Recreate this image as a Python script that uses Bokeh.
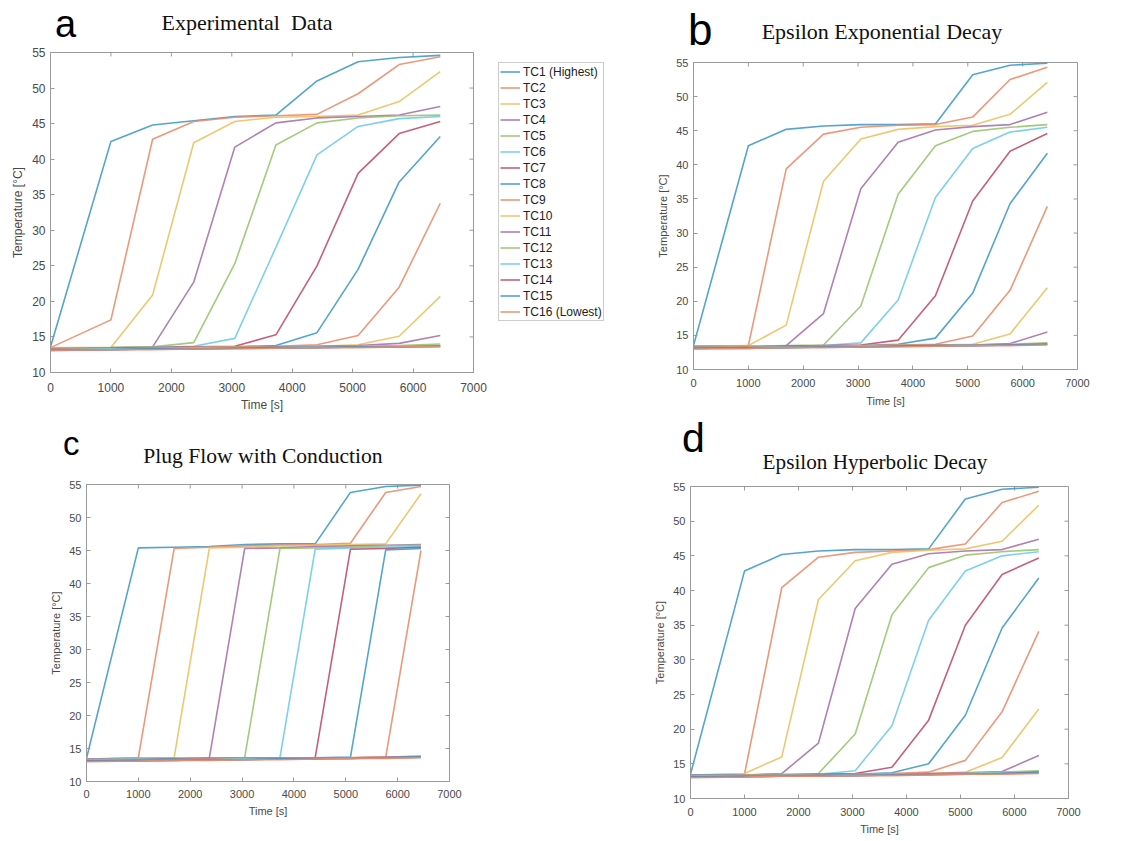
from bokeh.plotting import figure
from bokeh.layouts import row, column
from bokeh.models import Range1d, FixedTicker, Legend, LegendItem, Div
from bokeh.embed import file_html
from bokeh.resources import INLINE

# ---------------- data ----------------
times = [0, 1000, 1690, 2370, 3050, 3730, 4410, 5090, 5770, 6450]
tc_names = ["TC1 (Highest)", "TC2", "TC3", "TC4", "TC5", "TC6", "TC7", "TC8",
            "TC9", "TC10", "TC11", "TC12", "TC13", "TC14", "TC15", "TC16 (Lowest)"]
x_ticks = [0, 1000, 2000, 3000, 4000, 5000, 6000, 7000]
y_ticks = [10, 15, 20, 25, 30, 35, 40, 45, 50, 55]
panel_titles = ["Experimental  Data", "Epsilon Exponential Decay",
                "Plug Flow with Conduction", "Epsilon Hyperbolic Decay"]
panel_letters = ["a", "b", "c", "d"]

experimental = [
    [13.6, 42.5, 44.8, 45.4, 46.0, 46.2, 51.0, 53.7, 54.3, 54.6],
    [13.5, 17.4, 42.8, 45.3, 45.9, 46.1, 46.3, 49.2, 53.3, 54.4],
    [13.5, 13.5, 20.9, 42.3, 45.3, 45.9, 46.0, 46.2, 48.1, 52.3],
    [13.4, 13.5, 13.6, 22.7, 41.7, 45.1, 45.8, 46.0, 46.2, 47.4],
    [13.4, 13.5, 13.6, 14.2, 25.3, 42.0, 45.1, 45.8, 46.1, 46.2],
    [13.4, 13.4, 13.5, 13.7, 14.8, 27.6, 40.6, 44.6, 45.7, 46.0],
    [13.3, 13.4, 13.5, 13.6, 13.7, 15.3, 25.0, 38.0, 43.6, 45.3],
    [13.3, 13.4, 13.4, 13.5, 13.6, 13.8, 15.6, 24.5, 36.8, 43.2],
    [13.3, 13.3, 13.4, 13.5, 13.6, 13.7, 13.9, 15.2, 22.0, 33.8],
    [13.3, 13.3, 13.4, 13.5, 13.5, 13.6, 13.7, 13.9, 15.1, 20.7],
    [13.3, 13.3, 13.4, 13.4, 13.5, 13.6, 13.7, 13.8, 14.1, 15.2],
    [13.2, 13.3, 13.3, 13.4, 13.5, 13.5, 13.6, 13.7, 13.8, 14.0],
    [13.2, 13.3, 13.3, 13.4, 13.4, 13.5, 13.6, 13.6, 13.7, 13.8],
    [13.1, 13.2, 13.3, 13.3, 13.4, 13.5, 13.5, 13.6, 13.6, 13.7],
    [13.2, 13.2, 13.3, 13.3, 13.4, 13.4, 13.5, 13.6, 13.6, 13.7],
    [13.1, 13.2, 13.2, 13.3, 13.3, 13.4, 13.5, 13.5, 13.6, 13.6],
]

exponential = [
    [13.5, 42.8, 45.2, 45.7, 45.9, 45.9, 46.0, 53.2, 54.6, 54.9],
    [13.4, 13.5, 39.4, 44.5, 45.5, 45.8, 45.9, 47.0, 52.5, 54.3],
    [13.4, 13.5, 16.5, 37.6, 43.8, 45.2, 45.6, 45.8, 47.4, 52.1],
    [13.4, 13.4, 13.5, 18.2, 36.5, 43.3, 45.1, 45.6, 45.9, 47.7],
    [13.3, 13.4, 13.5, 13.6, 19.3, 35.7, 42.8, 44.9, 45.5, 45.9],
    [13.3, 13.4, 13.4, 13.5, 13.9, 20.2, 35.2, 42.4, 44.8, 45.5],
    [13.3, 13.3, 13.4, 13.5, 13.6, 14.3, 20.8, 34.7, 42.0, 44.6],
    [13.3, 13.3, 13.4, 13.4, 13.5, 13.7, 14.6, 21.2, 34.3, 41.7],
    [13.2, 13.3, 13.3, 13.4, 13.5, 13.6, 13.7, 14.9, 21.6, 33.9],
    [13.2, 13.3, 13.3, 13.4, 13.4, 13.5, 13.6, 13.7, 15.2, 22.0],
    [13.2, 13.2, 13.3, 13.4, 13.4, 13.5, 13.6, 13.6, 13.8, 15.5],
    [13.2, 13.2, 13.3, 13.3, 13.4, 13.5, 13.5, 13.6, 13.7, 13.9],
    [13.1, 13.2, 13.3, 13.3, 13.4, 13.4, 13.5, 13.6, 13.6, 13.8],
    [13.1, 13.2, 13.2, 13.3, 13.3, 13.4, 13.5, 13.5, 13.6, 13.7],
    [13.1, 13.1, 13.2, 13.3, 13.3, 13.4, 13.4, 13.5, 13.6, 13.7],
    [13.0, 13.1, 13.2, 13.2, 13.3, 13.3, 13.4, 13.5, 13.5, 13.6],
]

plug_flow = [
    [13.5, 45.4, 45.5, 45.6, 45.9, 46.0, 46.0, 53.8, 54.7, 54.9],
    [13.4, 13.6, 45.3, 45.5, 45.7, 45.8, 45.9, 46.1, 53.8, 54.7],
    [13.4, 13.5, 13.6, 45.4, 45.5, 45.7, 45.8, 45.9, 46.0, 53.6],
    [13.4, 13.5, 13.5, 13.6, 45.3, 45.4, 45.6, 45.7, 45.8, 45.9],
    [13.3, 13.4, 13.5, 13.5, 13.6, 45.3, 45.4, 45.5, 45.7, 45.8],
    [13.3, 13.4, 13.4, 13.5, 13.6, 13.6, 45.2, 45.4, 45.5, 45.6],
    [13.3, 13.3, 13.4, 13.5, 13.5, 13.6, 13.6, 45.2, 45.3, 45.5],
    [13.3, 13.3, 13.4, 13.4, 13.5, 13.5, 13.6, 13.7, 45.1, 45.3],
    [13.2, 13.3, 13.3, 13.4, 13.5, 13.5, 13.6, 13.6, 13.7, 45.0],
    [13.2, 13.3, 13.3, 13.4, 13.4, 13.5, 13.5, 13.6, 13.7, 13.8],
    [13.2, 13.2, 13.3, 13.4, 13.4, 13.5, 13.5, 13.6, 13.7, 13.8],
    [13.2, 13.2, 13.3, 13.3, 13.4, 13.4, 13.5, 13.6, 13.6, 13.7],
    [13.1, 13.2, 13.3, 13.3, 13.4, 13.4, 13.5, 13.5, 13.6, 13.7],
    [13.1, 13.2, 13.2, 13.3, 13.3, 13.4, 13.5, 13.5, 13.6, 13.7],
    [13.1, 13.1, 13.2, 13.3, 13.3, 13.4, 13.4, 13.5, 13.6, 13.7],
    [13.0, 13.1, 13.2, 13.2, 13.3, 13.3, 13.4, 13.5, 13.5, 13.6],
]

hyperbolic = [
    [13.5, 42.8, 45.2, 45.7, 45.9, 45.9, 46.0, 53.2, 54.6, 54.9],
    [13.4, 13.5, 40.4, 44.8, 45.5, 45.7, 45.9, 46.7, 52.7, 54.3],
    [13.4, 13.6, 16.0, 38.7, 44.3, 45.5, 45.8, 46.0, 47.1, 52.3],
    [13.4, 13.4, 13.6, 18.0, 37.4, 43.8, 45.3, 45.7, 45.9, 47.4],
    [13.3, 13.4, 13.5, 13.6, 19.3, 36.5, 43.3, 45.1, 45.6, 45.9],
    [13.3, 13.4, 13.4, 13.5, 14.0, 20.5, 35.7, 42.8, 45.0, 45.6],
    [13.3, 13.3, 13.4, 13.5, 13.6, 14.5, 21.3, 35.0, 42.3, 44.7],
    [13.3, 13.3, 13.4, 13.4, 13.5, 13.7, 15.0, 22.0, 34.6, 41.8],
    [13.2, 13.3, 13.3, 13.4, 13.5, 13.6, 13.8, 15.5, 22.5, 34.1],
    [13.2, 13.3, 13.3, 13.4, 13.4, 13.5, 13.6, 13.8, 15.9, 22.9],
    [13.2, 13.2, 13.3, 13.4, 13.4, 13.5, 13.6, 13.7, 13.9, 16.2],
    [13.2, 13.2, 13.3, 13.3, 13.4, 13.5, 13.5, 13.6, 13.8, 14.0],
    [13.1, 13.2, 13.3, 13.3, 13.4, 13.4, 13.5, 13.6, 13.7, 13.9],
    [13.1, 13.2, 13.2, 13.3, 13.3, 13.4, 13.5, 13.5, 13.6, 13.8],
    [13.1, 13.1, 13.2, 13.3, 13.3, 13.4, 13.4, 13.5, 13.6, 13.7],
    [13.0, 13.1, 13.2, 13.2, 13.3, 13.3, 13.4, 13.5, 13.5, 13.6],
]

palette = ["#3F9BCB", "#EC8C6A", "#EDC160", "#A772AE", "#9AC46E", "#6DCBEE", "#C04F6C"]

SANS = "Liberation Sans"
SERIF = "Liberation Serif"
AX = "#9a9a9a"
TXT = "#4a4a4a"
TICK_PX = 4


def style_axis(ax, fs):
    ax.major_tick_in = TICK_PX
    ax.major_tick_out = 0
    ax.minor_tick_line_color = None
    ax.axis_line_color = AX
    ax.major_tick_line_color = AX
    ax.major_label_text_font = SANS
    ax.major_label_text_font_size = fs
    ax.major_label_text_color = TXT
    ax.axis_label_text_font = SANS
    ax.axis_label_text_font_style = "normal"
    ax.axis_label_text_font_size = fs
    ax.axis_label_text_color = TXT


def make_panel(series, width, height, ml, mr, mt, mb, fs, x_stand, x_lab_stand):
    fw = width - ml - mr
    fh = height - mt - mb
    p = figure(width=width, height=height, output_backend="svg", toolbar_location=None,
               title=None, x_range=Range1d(0, 7000), y_range=Range1d(10, 55),
               min_border_left=ml, min_border_right=mr, min_border_top=mt,
               min_border_bottom=mb, background_fill_color="white",
               border_fill_color="white")
    p.grid.visible = False
    p.outline_line_color = AX
    p.outline_line_width = 1
    p.xaxis.ticker = FixedTicker(ticks=x_ticks)
    p.yaxis.ticker = FixedTicker(ticks=y_ticks)
    style_axis(p.xaxis[0], fs)
    style_axis(p.yaxis[0], fs)
    p.xaxis.major_label_standoff = x_stand
    p.xaxis.axis_label_standoff = x_lab_stand
    p.yaxis.major_label_standoff = 5
    p.yaxis.axis_label_standoff = 4
    p.xaxis.axis_label = "Time [s]"
    p.yaxis.axis_label = "Temperature [°C]"

    # inward tick marks on the top and right edges of the box
    x0, x1 = p.x_range.start, p.x_range.end
    y0, y1 = p.y_range.start, p.y_range.end
    dy = TICK_PX * (y1 - y0) / fh
    dx = TICK_PX * (x1 - x0) / fw
    p.segment(x0=x_ticks, y0=[y1] * len(x_ticks), x1=x_ticks, y1=[y1 - dy] * len(x_ticks),
              line_color=AX, line_width=1)
    p.segment(x0=[x1] * len(y_ticks), y0=y_ticks, x1=[x1 - dx] * len(y_ticks), y1=y_ticks,
              line_color=AX, line_width=1)

    for i, ys in enumerate(series):
        p.line(times, ys, line_color=palette[i % 7], line_width=1.6, line_alpha=0.9)
    return p


def header(width, height, letter, letter_left, letter_top, letter_size,
           title, title_center, title_top, title_size):
    html = (
        f'<div style="position:relative;width:{width}px;height:{height}px;">'
        f'<span style="position:absolute;left:{letter_left}px;top:{letter_top}px;'
        f"font-family:'{SANS}';font-size:{letter_size}px;line-height:1;color:#000;\">"
        f'{letter}</span>'
        f'<span style="position:absolute;left:{title_center - 150}px;top:{title_top}px;'
        f"width:300px;text-align:center;font-family:'{SERIF}';font-size:{title_size}px;"
        f'line-height:1;white-space:pre;color:#111;">{title}</span>'
        f'</div>')
    return Div(text=html, width=width, height=height, margin=0)


# ---------------- panels ----------------
pa = make_panel(experimental, 487, 368, 50, 14, 6, 41, "12px", 10, 3)
pb = make_panel(exponential, 490, 358, 73, 33, 6, 45, "11px", 9, 5)
pc = make_panel(plug_flow, 620, 357, 86, 171, 8, 52, "11px", 8, 4)
pd = make_panel(hyperbolic, 490, 358, 70, 42, 6, 40, "11px", 9, 4)

head_a = header(487, 46, panel_letters[0], 55, 5, 38, panel_titles[0], 247, 12, 22)
head_b = header(490, 56, panel_letters[1], 68, 8, 44, panel_titles[1], 262, 21, 22)
head_c = header(620, 62, panel_letters[2], 63, 13, 33, panel_titles[2], 263, 32, 21.6)
head_d = header(490, 66, panel_letters[3], 62, 4, 41, panel_titles[3], 255, 38, 21.2)

# legend panel (between a and b); its lines lie outside its own ranges
pl = figure(width=133, height=414, output_backend="svg", toolbar_location=None,
            title=None, x_range=Range1d(0, 1), y_range=Range1d(0, 1),
            min_border_left=11, min_border_top=62, min_border_right=0,
            min_border_bottom=0, x_axis_type=None, y_axis_type=None)
pl.outline_line_color = None
pl.grid.visible = False
items = []
for i, name in enumerate(tc_names):
    r = pl.line(times, experimental[i], line_color=palette[i % 7], line_width=1.6,
                line_alpha=0.9)
    items.append(LegendItem(label=name, renderers=[r]))
legend = Legend(items=items, location="top_left", margin=0, padding=1, spacing=1,
                label_height=15, glyph_height=15, glyph_width=20, label_standoff=3,
                label_text_font=SANS, label_text_font_size="12px",
                label_text_color="#222222", border_line_color=AX, border_line_width=1,
                background_fill_color="white", background_fill_alpha=1)
pl.add_layout(legend)

row1 = row(column(head_a, pa, spacing=0), pl, column(head_b, pb, spacing=0), spacing=0)
row2 = row(column(head_c, pc, spacing=0), column(head_d, pd, spacing=0), spacing=0)
layout = column(row1, row2, spacing=0)

with open("out.html", "w") as f:
    f.write(file_html(layout, INLINE))
